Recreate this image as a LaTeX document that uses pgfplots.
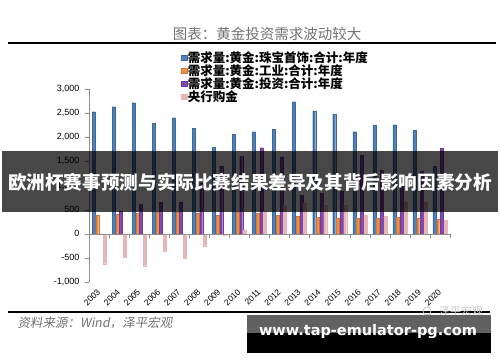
\documentclass[border=0pt]{standalone}
\usepackage{fontspec}
\usepackage{pgfplots}
\pgfplotsset{compat=1.18}
\setmainfont{Liberation Sans}
\newfontfamily\cjk{Noto Sans CJK SC}
\newfontfamily\cjksl[FakeSlant=0.18]{Noto Sans CJK SC}
\newfontfamily\wwwfont{DejaVu Sans}
\definecolor{cblue}{RGB}{79,129,189}
\definecolor{corange}{RGB}{242,142,62}
\definecolor{cpurple}{RGB}{130,72,182}
\definecolor{cpink}{RGB}{232,182,182}
\definecolor{caxis}{RGB}{140,140,140}

\pgfplotstableread{
x jewel indus invest cb
0 2530 393 0 -620
1 2633 414 476 -482
2 2716 428 610 -662
3 2290 455 658 -352
4 2406 455 662 -503
5 2186 428 1055 -248
6 1793 393 1400 -27
7 2062 455 1607 83
8 2117 428 1783 470
9 2165 380 1593 575
10 2737 359 800 630
11 2544 345 841 600
12 2476 331 876 585
13 2117 331 1634 393
14 2255 331 1324 372
15 2262 338 1030 665
16 2138 331 1290 660
17 1407 303 1773 275
}\gold
\usepackage{pgfplotstable}

\begin{document}
\begin{tikzpicture}[x=1pt,y=1pt]
\fill[white] (0,0) rectangle (500,362);
\begin{axis}[
  at={(89pt,80pt)}, anchor=south west, scale only axis,
  width=361pt, height=193pt,
  xmin=-0.5, xmax=17.5, ymin=-1000, ymax=3000,
  ybar, bar width=3pt,
  axis y line*=left, axis x line*=bottom,
  x axis line style={draw=none},
  y axis line style={caxis, -},
  xtick={0,...,17},
  xticklabels={2003,2004,2005,2006,2007,2008,2009,2010,2011,2012,2013,2014,2015,2016,2017,2018,2019,2020},
  xtick style={draw=none},
  ytick={-1000,-500,0,500,1000,1500,2000,2500,3000},
  ytick style={caxis},
  tick align=outside, major tick length=4pt,
  yticklabel style={font=\fontsize{9}{9}\selectfont, xshift=-2pt},
  xticklabel style={rotate=45, anchor=east, font=\fontsize{8.5}{8.5}\selectfont, yshift=-3pt},
  /pgf/number format/1000 sep={,},
  /pgf/number format/assume math mode=true,
  legend style={at={(0.247,1.21)}, anchor=north west, draw=none, fill=none,
    font=\cjk\bfseries\fontsize{12.5}{13}\selectfont, row sep=-1.5pt, nodes={inner sep=1pt}},
  legend cell align=left,
  legend image code/.code={\fill[#1] (0pt,-2.6pt) rectangle (5.2pt,2.6pt);},
  clip=false,
]
\addplot[fill=cblue, draw=cblue!80!black, line width=0.2pt, bar shift=-5.5pt] table[x=x,y=jewel]{\gold};
\addplot[fill=corange, draw=corange!85!black, line width=0.2pt, bar shift=-1.8pt] table[x=x,y=indus]{\gold};
\addplot[fill=cpurple, draw=cpurple!85!black, line width=0.2pt, bar shift=1.8pt] table[x=x,y=invest]{\gold};
\addplot[fill=cpink, draw=cpink, line width=0.2pt, bar shift=5.5pt] table[x=x,y=cb]{\gold};
\legend{需求量:黄金:珠宝首饰:合计:年度, 需求量:黄金:工业:合计:年度, 需求量:黄金:投资:合计:年度, 央行购金}
\draw[caxis] (axis cs:-0.5,0) -- (axis cs:17.5,0);
\pgfplotsinvokeforeach{-0.5,0.5,...,17.5}{\draw[caxis] (axis cs:#1,0) -- ++(0pt,-4pt);}
\end{axis}
% header
\node[text=black!55, font=\cjk\fontsize{14.5}{15}\selectfont] at (267,328) {图表：黄金投资需求波动较大};
\draw[line width=2pt] (8,319) -- (496,319);
% footer
\draw[line width=2.4pt] (8,50) -- (490,50);
\node[anchor=west, text=black!55, font=\cjksl\fontsize{12.5}{13}\selectfont] at (14,39) {资料来源：Wind，泽平宏观};
\node[text=black!22, font=\cjk\fontsize{11}{12}\selectfont] at (461,51) {泽平宏观};
\draw[black!22, line width=0.8pt] (427,51) circle (4pt);
% overlay banner
\fill[black, opacity=0.72] (2,150) rectangle (498,211);
\node[text=white, font=\cjk\bfseries\fontsize{18.6}{20}\selectfont] at (250,180) {欧洲杯赛事预测与实际比赛结果差异及其背后影响因素分析};
% overlay url box
\fill[black!62] (247,29) rectangle (491,47);
\fill[black] (247,9) rectangle (491,29);
\node[text=white, font=\wwwfont\bfseries\fontsize{14.5}{15}\selectfont] at (368,30) {www.tap-emulator-pg.com};
\end{tikzpicture}
\end{document}
